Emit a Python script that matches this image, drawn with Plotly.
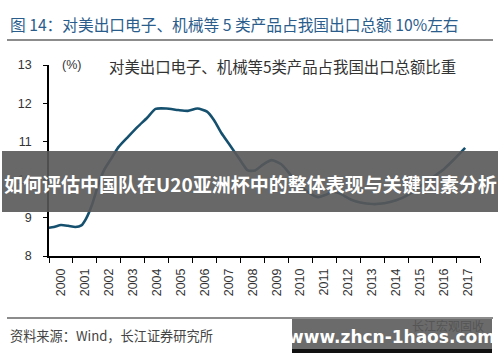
import plotly.graph_objects as go

# ---- data ----
years = [str(y) for y in range(2000, 2018)]
# time position in "years since 2000" (category centre = integer) and share (%)
t_pos = [-0.62, -0.3, 0.0, 0.3, 0.6, 0.85, 1.05, 1.3, 1.55, 1.8, 2.1, 2.4, 2.8, 3.2, 3.6, 3.95, 4.4,
         4.9, 5.3, 5.7, 6.1, 6.4, 6.7, 7.0, 7.3, 7.55, 7.8, 8.1, 8.45, 8.8, 9.2, 9.6, 9.95, 10.35,
         10.75, 11.05, 11.35, 11.7, 12.1, 12.5, 13.0, 13.5, 14.0, 14.5, 14.9, 15.3, 15.7, 16.0,
         16.4, 16.88]
share = [8.73, 8.76, 8.81, 8.79, 8.76, 8.80, 8.98, 9.35, 9.85, 10.25, 10.55, 10.85, 11.12, 11.38,
         11.62, 11.85, 11.86, 11.82, 11.80, 11.86, 11.78, 11.55, 11.22, 10.95, 10.68, 10.45, 10.24,
         10.24, 10.40, 10.51, 10.40, 10.12, 9.86, 9.66, 9.54, 9.60, 9.68, 9.62, 9.48, 9.40, 9.36,
         9.38, 9.46, 9.60, 9.78, 9.96, 10.14, 10.28, 10.52, 10.83]
y_ticks = [8, 9, 10, 11, 12, 13]

title_text = "图 14：对美出口电子、机械等 5 类产品占我国出口总额 10%左右"
series_name = "对美出口电子、机械等5类产品占我国出口总额比重"
unit_text = "(%)"
source_text = "资料来源：Wind，长江证券研究所"
banner_text = "如何评估中国队在U20亚洲杯中的整体表现与关键因素分析"
url_text = "www.zhcn-1haos.com"
wm_text = "长江宏观固收"

W, H = 500, 362
L, R, T, B = 49, 480, 65, 256   # plot area in pixels


def px(x):
    return (x - L) / (R - L)


def py(y):
    return (B - y) / (B - T)


CJK = "Noto Sans CJK SC"
LAT = "Liberation Sans, Arial, " + CJK

fig = go.Figure()
fig.add_trace(go.Scatter(
    x=t_pos, y=share, mode="lines", name=series_name,
    line=dict(color="#15506f", width=2.6, shape="spline", smoothing=0.6),
    hoverinfo="skip", showlegend=False,
))
# dummy trace on the boundary-tick axis
fig.add_trace(go.Scatter(x=[-0.5, 17.5], y=[8, 8], xaxis="x2", mode="lines",
                         line=dict(width=0), showlegend=False, hoverinfo="skip"))

fig.update_layout(
    width=W, height=H,
    margin=dict(l=L, r=W - R, t=T, b=H - B, pad=0),
    paper_bgcolor="white", plot_bgcolor="white",
    font=dict(family=LAT, size=12, color="#333333"),
    xaxis=dict(
        range=[-0.5, 17.5], tickvals=list(range(len(years))), ticktext=years,
        tickangle=-90, ticks="", showgrid=False, zeroline=False, showline=False,
        tickfont=dict(size=12.5, color="#333333", family=LAT), ticklabelstandoff=9,
    ),
    xaxis2=dict(
        range=[-0.5, 17.5], overlaying="x", anchor="y", side="bottom",
        tickvals=[i - 0.5 for i in range(len(years) + 1)], showticklabels=False,
        ticks="outside", ticklen=5, tickwidth=1.3, tickcolor="black",
        showline=True, linecolor="black", linewidth=1.5, showgrid=False, zeroline=False,
    ),
    yaxis=dict(
        range=[8, 13], tickvals=y_ticks, ticks="outside", ticklen=4, tickwidth=1.3,
        tickcolor="black", showline=True, linecolor="black", linewidth=1.5,
        showgrid=False, zeroline=False, tickfont=dict(size=12.5, color="#333333"),
        ticklabelstandoff=9,
    ),
)

shapes = [
    # header rule
    dict(type="line", xref="paper", yref="paper", x0=px(7), x1=px(493), y0=py(40), y1=py(40),
         line=dict(color="#8c8c8c", width=2), layer="above"),
    # footer rule
    dict(type="line", xref="paper", yref="paper", x0=px(7), x1=px(493), y0=py(318), y1=py(318),
         line=dict(color="#8c8c8c", width=2), layer="above"),
    # banner overlay
    dict(type="rect", xref="paper", yref="paper", x0=px(2), x1=px(498), y0=py(212), y1=py(151),
         fillcolor="rgba(88,88,88,0.9)", line=dict(width=0), layer="above"),
    # url box
    dict(type="rect", xref="paper", yref="paper", x0=px(292), x1=px(492), y0=py(349), y1=py(319),
         fillcolor="#6b6b6b", line=dict(width=0), layer="above"),
    dict(type="rect", xref="paper", yref="paper", x0=px(292), x1=px(492), y0=py(353), y1=py(349),
         fillcolor="#111111", line=dict(width=0), layer="above"),
]
fig.update_layout(shapes=shapes)

ann = [
    dict(text=title_text, x=px(8), y=py(24), xanchor="left", yanchor="middle",
         font=dict(family=CJK, size=15.7, color="#2b5d8c")),
    dict(text=unit_text, x=px(60), y=py(65), xanchor="left", yanchor="middle",
         font=dict(family=LAT, size=12.5, color="#333333")),
    dict(text=series_name, x=px(107), y=py(66), xanchor="left", yanchor="middle",
         font=dict(family=CJK, size=15.4, color="#333333")),
    dict(text=source_text, x=px(8), y=py(335), xanchor="left", yanchor="middle",
         font=dict(family=CJK, size=13.2, color="#444444")),
    dict(text="<b>" + banner_text + "</b>", x=px(250), y=py(183), xanchor="center", yanchor="middle",
         font=dict(family=CJK, size=19, color="white")),
    dict(text=wm_text, x=px(486), y=py(325), xanchor="right", yanchor="middle",
         font=dict(family=CJK, size=12, color="#555555")),
    dict(text="<b>" + url_text + "</b>", x=px(391), y=py(337), xanchor="center", yanchor="middle",
         font=dict(family="DejaVu Sans, " + LAT, size=17, color="white")),
]
for a in ann:
    a.update(xref="paper", yref="paper", showarrow=False)
fig.update_layout(annotations=ann)

fig.write_html(
    "out.html",
    config={"displayModeBar": False},
    post_script="document.body.style.margin='0';document.body.style.overflow='hidden';",
)
